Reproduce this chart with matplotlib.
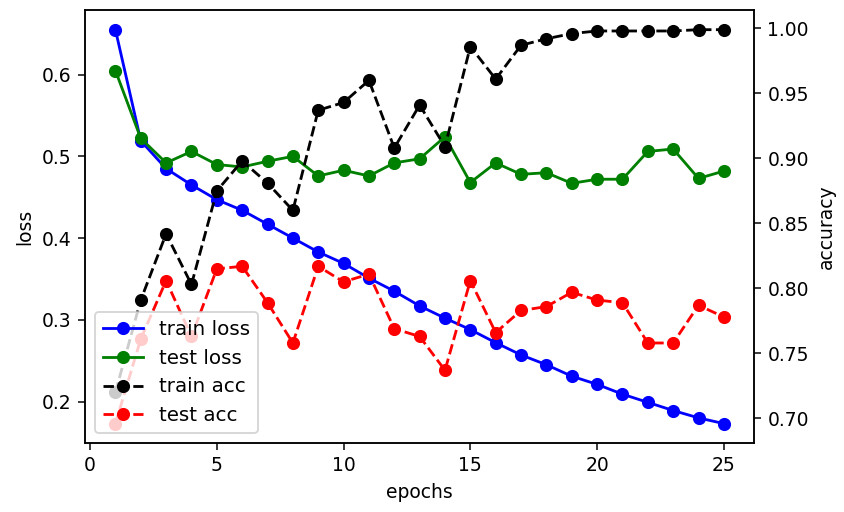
import matplotlib
matplotlib.use("Agg")
import matplotlib.pyplot as plt

# datos
epochs = list(range(1, 26))
train_loss = [0.655, 0.519, 0.485, 0.465, 0.447, 0.434, 0.417, 0.400, 0.383, 0.369,
              0.351, 0.335, 0.317, 0.302, 0.288, 0.272, 0.257, 0.245, 0.231, 0.221,
              0.209, 0.199, 0.189, 0.180, 0.173]
test_loss = [0.605, 0.522, 0.492, 0.506, 0.490, 0.487, 0.494, 0.500, 0.476, 0.483,
             0.476, 0.492, 0.497, 0.524, 0.468, 0.492, 0.478, 0.480, 0.467, 0.472,
             0.472, 0.506, 0.509, 0.473, 0.482]
train_acc = [0.720, 0.791, 0.842, 0.803, 0.875, 0.898, 0.881, 0.860, 0.937, 0.943,
             0.960, 0.908, 0.941, 0.909, 0.986, 0.961, 0.987, 0.992, 0.996, 0.998,
             0.998, 0.998, 0.998, 0.999, 0.999]
test_acc = [0.696, 0.761, 0.806, 0.763, 0.815, 0.817, 0.789, 0.758, 0.817, 0.805,
            0.811, 0.769, 0.763, 0.737, 0.806, 0.766, 0.783, 0.786, 0.797, 0.791,
            0.789, 0.758, 0.758, 0.787, 0.778]

DPI = 135
fig, ax = plt.subplots(figsize=(844 / DPI, 512 / DPI), dpi=DPI)
fig.subplots_adjust(left=0.1007, right=0.8937, bottom=0.1342, top=0.9805)

l1, = ax.plot(epochs, train_loss, 'bo-', label='train loss')
l2, = ax.plot(epochs, test_loss, 'go-', label='test loss')
ax.set_xlabel('epochs')
ax.set_ylabel('loss')

ax2 = ax.twinx()
l3, = ax2.plot(epochs, train_acc, 'ko--', label='train acc')
l4, = ax2.plot(epochs, test_acc, 'ro--', label='test acc')
ax2.set_ylabel('accuracy')

lineas = [l1, l2, l3, l4]
ax2.legend(lineas, [l.get_label() for l in lineas], loc='lower left', fontsize=10.6)

plt.savefig('out.png', dpi=DPI)
